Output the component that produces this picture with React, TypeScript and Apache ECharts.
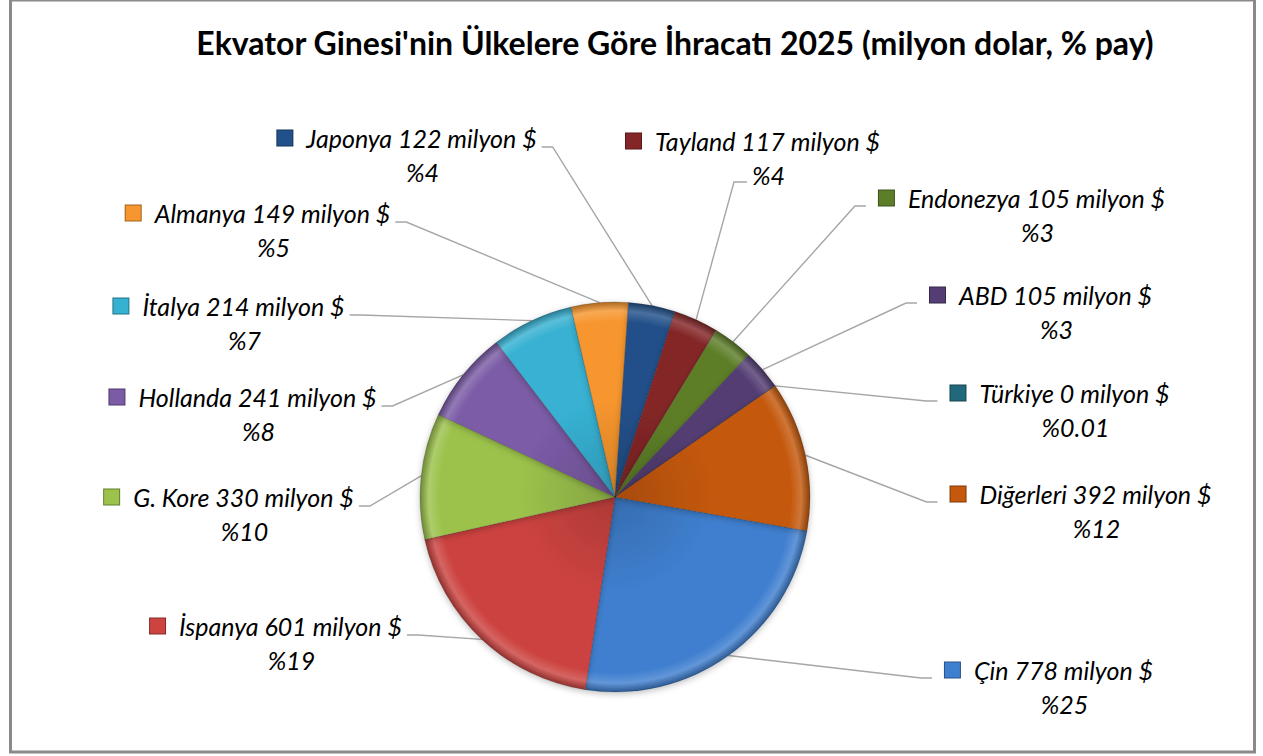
import React, { useEffect, useRef } from 'react';
import * as echarts from 'echarts';

// ---- Data (clockwise order, starting just below 3 o'clock) ----
const categories = ['Çin', 'İspanya', 'G. Kore', 'Hollanda', 'İtalya', 'Almanya', 'Japonya', 'Tayland', 'Endonezya', 'ABD', 'Türkiye', 'Diğerleri'];
const exportsMillionUSD = [778, 601, 330, 241, 214, 149, 122, 117, 105, 105, 0.3, 392];
const titleText = "Ekvator Ginesi'nin Ülkelere Göre İhracatı 2025 (milyon dolar, % pay)";

// ---- Styles / layout ----
const sliceColors = ['#3f7fcf', '#cc4340', '#9cc24c', '#7b5ba6', '#37b1d2', '#f7962e', '#22508a', '#842627', '#5d7e28', '#533d72', '#22687d', '#c4580c'];
// label text-centre x, first-line centre y
const labelCenters = [[1065, 670], [292, 626], [245, 497], [259, 397], [245, 306], [274, 213], [423, 138], [769, 141], [1038, 198], [1057, 295], [1076, 393], [1097, 494]];
// where the leader line attaches to the label
const labelAttach = ['left', 'right', 'right', 'right', 'right', 'right', 'right', 'line2', 'left', 'left', 'left', 'left'];

const PIE_CX = 615;
const PIE_CY = 497;
const PIE_R = 195;
const FONT = 'Lato';
const FS = 25;
const LINE_H = 34;
const KEY = 15;
const GAP = 14;
const KEY_W = KEY + 2 + GAP;

function shade(hex: string, amt: number): string {
  const n = parseInt(hex.slice(1), 16);
  let r = (n >> 16) & 255, g = (n >> 8) & 255, b = n & 255;
  const f = (c: number) => {
    const v = amt >= 0 ? c + (255 - c) * amt : c * (1 + amt);
    return Math.max(0, Math.min(255, Math.round(v)));
  };
  r = f(r); g = f(g); b = f(b);
  return '#' + ((1 << 24) | (r << 16) | (g << 8) | b).toString(16).slice(1);
}

export default function App() {
  const ref = useRef<HTMLDivElement>(null);

  useEffect(() => {
    if (!ref.current) return;
    const chart = echarts.init(ref.current, null, { renderer: 'svg' });

    const rich: Record<string, any> = {
      g: { width: GAP, height: KEY, lineHeight: LINE_H },
      s: { width: KEY_W, height: KEY, lineHeight: LINE_H, align: 'center' },
      t: { fontFamily: FONT, fontSize: FS, fontStyle: 'italic', color: '#000', lineHeight: LINE_H },
      p: { fontFamily: FONT, fontSize: FS, fontStyle: 'italic', color: '#000', lineHeight: LINE_H, align: 'center' },
    };
    sliceColors.forEach((c, i) => {
      rich['k' + i] = {
        width: KEY, height: KEY, lineHeight: LINE_H,
        backgroundColor: c, borderColor: shade(c, -0.35), borderWidth: 1,
      };
    });

    const data = categories.map((name, i) => {
      const c = sliceColors[i];
      return {
        name,
        value: exportsMillionUSD[i],
        itemStyle: {
          color: {
            type: 'radial', x: PIE_CX, y: PIE_CY, r: PIE_R, global: true,
            colorStops: [
              { offset: 0, color: shade(c, -0.15) },
              { offset: 0.5, color: c },
              { offset: 0.9, color: c },
              { offset: 0.955, color: shade(c, 0.18) },
              { offset: 1, color: shade(c, -0.3) },
            ],
          },
        },
      };
    });

    chart.setOption({
      animation: false,
      backgroundColor: '#ffffff',
      graphic: [
        {
          type: 'rect', silent: true, z: -10,
          shape: { x: 10.5, y: 0, width: 1244, height: 752 },
          style: { fill: 'none', stroke: '#8a8a8a', lineWidth: 3 },
        },
        {
          type: 'text', x: 675, y: 42, z: 10,
          style: {
            text: titleText, fontFamily: FONT, fontSize: 32, fontWeight: 'bold',
            fill: '#000', align: 'center', verticalAlign: 'middle',
          },
        },
      ],
      series: [
        {
          type: 'pie',
          center: [PIE_CX, PIE_CY],
          radius: PIE_R,
          startAngle: 350,
          clockwise: true,
          avoidLabelOverlap: false,
          silent: true,
          data,
          itemStyle: {
            borderColor: 'rgba(0,0,0,0.25)',
            borderWidth: 0.6,
            shadowBlur: 6,
            shadowColor: 'rgba(0,0,0,0.25)',
            shadowOffsetY: 2,
          },
          label: {
            show: true,
            position: 'outside',
            fontFamily: FONT,
            fontSize: FS,
            fontStyle: 'italic',
            color: '#000',
            lineHeight: LINE_H,
            formatter: (p: any) => {
              const pct = p.percent < 1 ? p.percent.toFixed(2) : String(Math.round(p.percent));
              return `{k${p.dataIndex}|}{g|}{t|${p.name} ${Math.round(p.value)} milyon $}\n{s|}{p|%${pct}}`;
            },
            rich,
          },
          labelLine: {
            show: true,
            length: 20,
            length2: 10,
            lineStyle: { color: '#a6a6a6', width: 1.4 },
          },
          labelLayout: (p: any) => {
            const i = p.dataIndex;
            const [cx, cy] = labelCenters[i];
            const W = p.labelRect.width;
            const textW = W - KEY_W;
            const left = cx - textW / 2 - KEY_W;
            const top = cy - LINE_H / 2;
            const edge = p.labelLinePoints ? p.labelLinePoints[0] : [cx, cy];
            let end: number[];
            let elbow: number[];
            const mode = labelAttach[i];
            if (mode === 'left') {
              end = [left - 13, cy + 8];
              elbow = [end[0] - 11, end[1]];
            } else if (mode === 'right') {
              end = [cx + textW / 2 + 4, cy + 9];
              elbow = [end[0] + 11, end[1]];
            } else {
              end = [cx - 22, cy + LINE_H + 7];
              elbow = [end[0] - 13, end[1]];
            }
            return {
              x: left,
              y: top,
              align: 'left',
              verticalAlign: 'top',
              labelLinePoints: [edge, elbow, end],
            };
          },
        },
      ],
    });

    return () => chart.dispose();
  }, []);

  return (
    <div
      ref={ref}
      style={{ position: 'fixed', left: 0, top: 0, width: 1263, height: 756, background: '#fff' }}
    />
  );
}
